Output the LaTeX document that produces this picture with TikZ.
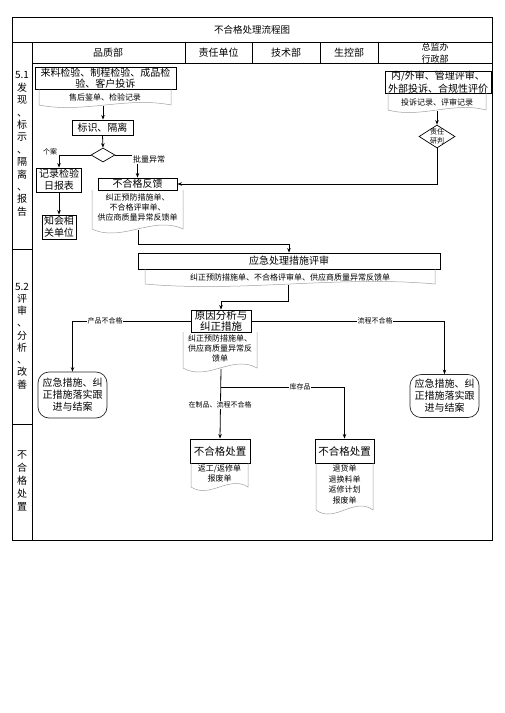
\documentclass[tikz,border=0pt]{standalone}
\usepackage{fontspec}
\setmainfont{Noto Sans CJK SC}
\usetikzlibrary{arrows.meta,shapes.geometric}
\newcommand{\fs}[2]{\fontsize{#1}{#2}\selectfont}
% document shape: x1, x2, ytop, ybottom, amplitude
\newcommand{\docshape}[5]{%
  \draw[docline] (#1,#3) -- (#1,#4) .. controls ({#1+0.33*(#2-#1)},{#4+3.5*#5}) and ({#1+0.67*(#2-#1)},{#4-3.5*#5}) .. (#2,#4) -- (#2,#3);}
\begin{document}
\begin{tikzpicture}[x=1pt,y=-1pt,
  tbl/.style={line width=0.8pt},
  box/.style={draw, line width=0.9pt, inner sep=0pt, align=center, font=\fs{10}{12}},
  term/.style={draw=black!85, rounded corners=11pt, line width=0.7pt, inner sep=0pt, align=center, font=\fs{10}{12}},
  docline/.style={draw=gray!75, line width=0.5pt},
  doctext/.style={align=center, inner sep=0pt, font=\fs{8}{10}},
  conn/.style={line width=0.8pt, -{Stealth[length=4.5pt,width=3.5pt]}},
  plainline/.style={line width=0.8pt},
  lbl/.style={fill=white, inner sep=0.8pt, font=\fs{7}{8}},
  hdr/.style={inner sep=0pt, align=center, font=\fs{10}{12}},
  side/.style={inner sep=0pt, align=center}]
\useasboundingbox (0,0) rectangle (504,713);

% ---------- table ----------
\draw[tbl] (12,17) rectangle (492,540);
\draw[tbl] (12,42) -- (492,42);
\draw[tbl] (32,42) -- (32,540);
\draw[tbl] (32,63) -- (492,63);
\foreach \xx in {185,252,320,378} \draw[tbl] (\xx,42) -- (\xx,63);
\draw[tbl] (12,249) -- (32,249);
\draw[tbl] (12,424) -- (32,424);

\node[hdr, font=\fs{9.5}{11}] (title) at (252,29.5) {不合格处理流程图};
\node[hdr] (h1) at (108,52.5) {品质部};
\node[hdr] (h2) at (218.5,52.5) {责任单位};
\node[hdr] (h3) at (286,52.5) {技术部};
\node[hdr] (h4) at (349,52.5) {生控部};
\node[hdr, font=\fs{9}{12}] (h5) at (435,53) {总监办\\行政部};

\node[side, font=\fs{10}{12.4}] (s1) at (22,144) {5.1\\发\\现\\、\\标\\示\\、\\隔\\离\\、\\报\\告};
\node[side, font=\fs{10}{12.25}] (s2) at (22,336) {5.2\\评\\审\\、\\分\\析\\、\\改\\善};
\node[side, font=\fs{10}{13}] (s3) at (22,481) {不\\合\\格\\处\\置};

% ---------- boxes ----------
\node[box, minimum width=141pt, minimum height=22pt, font=\fs{10}{11}] (A) at (105.5,78) {来料检验、制程检验、成品检\\验、客户投诉};
\docshape{39}{171}{89}{105}{2.5}
\node[doctext] (tA) at (105,97) {售后鉴单、检验记录};
\coordinate (dAb) at (103,106);

\node[box, minimum width=61pt, minimum height=15pt] (B) at (102.5,127.5) {标识、隔离};
\node[draw, diamond, line width=0.7pt, minimum width=24pt, minimum height=14pt, inner sep=0pt] (Q1) at (103,155) {};

\node[box, minimum width=45pt, minimum height=24pt] (C) at (59,180) {记录检验\\日报表};
\node[box, minimum width=34pt, minimum height=24pt] (E) at (59,227) {知会相\\关单位};

\node[box, minimum width=79pt, minimum height=12pt] (D) at (137.5,184) {不合格反馈};
\docshape{92}{183}{190}{229}{4}
\node[doctext] (tD) at (137.5,207) {纠正预防措施单、\\不合格评审单、\\供应商质量异常反馈单};
\coordinate (dDb) at (138,230);

\node[box, minimum width=106pt, minimum height=22pt, font=\fs{10}{12.5}] (F) at (438,82) {内/外审、管理评审、\\外部投诉、合规性评价};
\docshape{388}{486}{93}{110}{2.5}
\node[doctext] (tF) at (437,102) {投诉记录、评审记录};
\coordinate (dFb) at (437,111);
\node[draw, diamond, line width=0.7pt, minimum width=36pt, minimum height=23pt, inner sep=0pt] (Q2) at (437,136.5) {};
\node[doctext, font=\fs{7}{9}] (tQ2) at (Q2) {责任\\研判};

\node[box, minimum width=302pt, minimum height=16pt] (G) at (289,261) {应急处理措施评审};
\docshape{145}{435}{269}{284}{2.5}
\node[doctext] (tG) at (290,277) {纠正预防措施单、不合格评审单、供应商质量异常反馈单};
\coordinate (dGb) at (288,285);

\node[box, minimum width=60pt, minimum height=22pt, font=\fs{10.5}{11.5}] (H) at (221,321) {原因分析与\\纠正措施};
\docshape{183}{257}{332}{368}{4}
\node[doctext] (tH) at (220,348) {纠正预防措施单、\\供应商质量异常反\\馈单};
\coordinate (dHb) at (221,369);

\node[term, minimum width=69pt, minimum height=46pt] (I) at (72.5,395) {应急措施、纠\\正措施落实跟\\进与结案};
\node[term, minimum width=69pt, minimum height=43pt] (J) at (444.5,396) {应急措施、纠\\正措施落实跟\\进与结案};

\node[box, minimum width=60pt, minimum height=24pt, font=\fs{10.5}{12}] (K) at (220,451) {不合格处置};
\docshape{191}{248}{463}{487}{3.5}
\node[doctext] (tK) at (219.5,473) {返工/返修单\\报废单};

\node[box, minimum width=59pt, minimum height=24pt, font=\fs{10.5}{12}] (L) at (344.5,451) {不合格处置};
\docshape{316}{373}{463}{510}{4}
\node[doctext, font=\fs{8}{10.4}] (tL) at (344.5,484.5) {退货单\\退换料单\\返修计划\\报废单};

% ---------- connectors ----------
\draw[conn] (dAb) -- (dAb |- B.north);
\draw[conn] (B.south) -- (Q1.north);
\draw[conn] (Q1.west) -| (C.north);
\node[lbl, fill=none] (l1) at (50,152) {个案};
\draw[conn] (Q1.east) -| (D.north);
\node[lbl, font=\fs{8}{9}] (l2) at (149,159) {批量异常};
\draw[conn] (C.south) -- (E.north);
\draw[conn] (dFb) -- (Q2.north);
\draw[conn] (Q2.south) |- (D.east);
\draw[conn] (dDb) -- ++(0,14) -| (G.north);
\draw[conn] (dGb) -- ++(0,16) -| (H.north);
\draw[conn] (H.west) -| (I.north);
\node[lbl] (l3) at (105,321) {产品不合格};
\draw[conn] (H.east) -| (J.north);
\node[lbl] (l4) at (375,321) {流程不合格};
\coordinate (br) at (221,387);
\draw[conn] (dHb) -- (K.north);
\draw[conn] (br) -| (L.north);
\node[lbl] (l5) at (300,387) {库存品};
\node[lbl] (l6) at (220,405) {在制品、流程不合格};
\end{tikzpicture}
\end{document}
